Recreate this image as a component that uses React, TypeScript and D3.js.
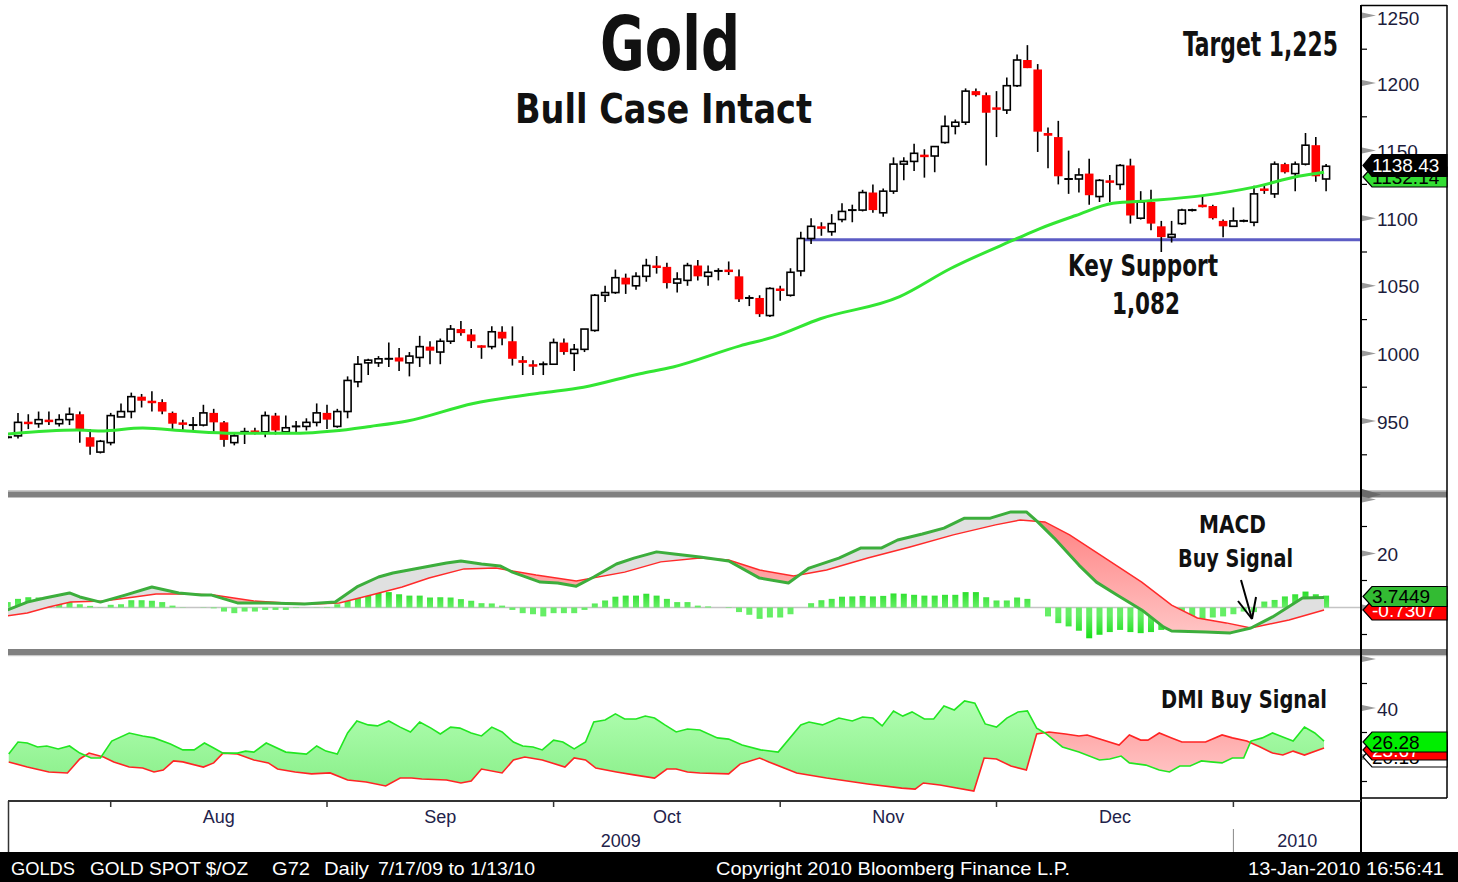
import React from "react";
import * as d3 from "d3";

// ---------- DATA ----------
// Daily candles, index 0 = first (partially cut) bar on the left edge
const OPEN = [938, 939, 949.5, 948, 951, 948, 951, 955, 938, 927,
  934, 953, 957, 968, 965, 964, 956, 949, 947, 947,
  956, 949, 934, 942, 943, 942, 954, 942, 946, 946,
  949, 956, 946, 957, 979, 993, 993, 996, 997, 993,
  997, 1005, 1001, 1009, 1018, 1014, 1006, 1005, 1016, 1009,
  995, 992, 992, 992, 1008, 1000, 1003, 1017, 1043, 1045,
  1056, 1050, 1057, 1065, 1064, 1052, 1054, 1065, 1057, 1061,
  1062, 1057, 1041, 1041, 1028, 1048, 1043, 1061, 1085, 1094,
  1090, 1099, 1106, 1106, 1119, 1104, 1120, 1140, 1142, 1147,
  1146, 1156, 1168, 1171, 1194, 1191, 1182, 1180, 1198, 1217,
  1210, 1163, 1160, 1129, 1129, 1133, 1116, 1128, 1125, 1139,
  1100, 1112, 1094, 1086, 1096, 1106, 1110, 1109, 1098, 1094,
  1098, 1097, 1122, 1118, 1140, 1133, 1140, 1154, 1129];
const HIGH = [939, 956, 955, 957, 957, 955, 960, 957, 944, 936,
  956, 963, 971, 970, 972, 966, 957, 951, 953, 962,
  959, 950, 941, 945, 945, 957, 956, 954, 950, 952,
  963, 962, 959, 983, 998, 996, 998, 1008, 1004, 1001,
  1013, 1009, 1011, 1021, 1024, 1018, 1006, 1020, 1020, 1020,
  998, 995, 994, 1011, 1011, 1007, 1018, 1044, 1050, 1062,
  1059, 1060, 1070, 1072, 1067, 1060, 1067, 1069, 1065, 1063,
  1068, 1062, 1043, 1043, 1049, 1050, 1063, 1090, 1100, 1097,
  1103, 1111, 1110, 1121, 1125, 1122, 1145, 1145, 1155, 1151,
  1153, 1176, 1173, 1196, 1196, 1193, 1194, 1204, 1221, 1228,
  1214, 1167, 1172, 1150, 1137, 1144, 1129, 1132, 1140, 1144,
  1120, 1121, 1098, 1098, 1107, 1107, 1117, 1110, 1099, 1108,
  1099, 1124, 1124, 1142, 1141, 1142, 1163, 1160, 1140];
const LOW = [937, 937, 944, 945, 947, 946, 947, 934, 925, 926,
  932, 953, 952, 960, 957, 955, 944, 942, 943, 946,
  942, 931, 932, 933, 940, 938, 940, 942, 941, 943,
  946, 944, 945, 952, 975, 984, 990, 990, 987, 983,
  990, 992, 992, 1007, 1013, 1004, 996, 1003, 1006, 991,
  984, 984, 984, 992, 999, 987, 1001, 1016, 1038, 1044,
  1044, 1047, 1053, 1059, 1048, 1045, 1050, 1054, 1050, 1054,
  1058, 1038, 1035, 1027, 1027, 1039, 1042, 1057, 1081, 1087,
  1087, 1097, 1097, 1105, 1104, 1101, 1118, 1128, 1135, 1130,
  1134, 1155, 1162, 1169, 1190, 1139, 1160, 1177, 1197, 1211,
  1149, 1137, 1125, 1118, 1119, 1110, 1112, 1112, 1121, 1096,
  1099, 1091, 1075, 1082, 1095, 1105, 1108, 1099, 1086, 1094,
  1097, 1094, 1118, 1115, 1133, 1120, 1139, 1127, 1120];
const CLOSE = [938, 949, 949, 951, 949.5, 951, 955, 944, 931, 935,
  954, 957, 968, 965, 964, 957, 948, 948, 947, 956,
  949, 936, 939, 942, 942, 954, 943, 945, 946, 949,
  956, 951, 957, 980, 992, 995, 996, 996, 994, 998,
  1005, 1002, 1009, 1018, 1015, 1009, 1005, 1016, 1011, 996,
  993, 991, 992, 1008, 1001, 1003, 1018, 1043, 1045, 1056,
  1051, 1057, 1065, 1064, 1052, 1055, 1065, 1057, 1060, 1061,
  1061, 1040, 1041, 1029, 1048, 1047, 1060, 1085, 1094, 1093,
  1096, 1105, 1106, 1119, 1106, 1120, 1140, 1142, 1148, 1146,
  1153, 1168, 1171, 1194, 1191, 1178, 1181, 1198, 1217, 1211,
  1164, 1161, 1131, 1129, 1132, 1117, 1128, 1127, 1139, 1102,
  1112, 1096, 1086, 1088, 1106, 1106, 1109, 1100, 1094, 1098,
  1098, 1118, 1121, 1140, 1134, 1140, 1154, 1131, 1138.43];

// Moving average (green) : [bar index, price]
const MA_PTS: [number, number][] = [[0, 940.4], [6.7, 943.3], [9, 942.6], [13.1, 944.8], [17.4, 942.6],
  [21.9, 941], [25.2, 941], [28.4, 941], [31.6, 942.6], [35.2, 946], [38.8, 950], [45.2, 963],
  [51.7, 970.7], [55.9, 975], [61.4, 985], [64.6, 990], [71.1, 1005.6], [74.3, 1012], [78.9, 1025.6],
  [86.6, 1042], [91.5, 1062.6], [98, 1085], [100.1, 1092], [103.7, 1102], [107.3, 1111], [110.9, 1113],
  [116, 1116.7], [121, 1123], [125.3, 1131], [127.8, 1134]];
const SUPPORT = 1084;
const SUPPORT_FROM = 77;
const LAST_PRICE = "1138.43";
const LAST_MA = "1132.14";

// MACD line, signal line : [bar index, value]
const MACD: [number, number][] = [[0, -0.9], [1.9, 2.0], [3.6, 3.5], [6, 5.4], [7, 3.9], [9, 2.0], [11.4, 4.6],
  [14, 7.6], [16.6, 5.4], [18.8, 4.6], [19.8, 4.6], [22.3, 1.7], [25.3, 1.7], [28.8, 1.3], [31.8, 2.0],
  [33.9, 7.6], [36, 11.3], [37.4, 12.8], [40, 14.6], [42.6, 16.5], [44, 17.2], [46, 16.1], [47.8, 15.4],
  [49, 13.1], [51.7, 9.4], [53.4, 9.1], [55.2, 7.9], [56.9, 11.3], [59.1, 16.1], [60.8, 18.3], [63, 20.6],
  [64.7, 19.8], [67.2, 18.7], [70, 17.2], [73, 10.9], [75.8, 9.1], [77.8, 14.6], [80.7, 18.3], [82.8, 22],
  [84.8, 22], [86.4, 25], [88.8, 27.2], [90.9, 29.4], [92.9, 33.1], [95.4, 33.1], [97.4, 35.4], [98.9, 35.4],
  [100, 31.7], [101.6, 25.7], [104, 15.7], [105.7, 9.4], [107.7, 4.6], [110.1, -0.9], [112.2, -7.2],
  [113, -8.7], [116.3, -9.1], [118.7, -9.4], [120.7, -7.6], [122.8, -3.5], [125.7, 3.5], [127.8, 3.7]];
const SIGNAL: [number, number][] = [[0, -3.1], [1.9, -2.0], [4, 0.2], [6.1, 2.0], [9.3, 2.4], [12.3, 3.9],
  [14.4, 5.0], [17.5, 5.0], [20, 4.6], [23.9, 2.4], [27, 1.7], [29.6, 1.3], [32.2, 1.7], [35.3, 4.6],
  [38.3, 7.6], [40.9, 10.9], [44.3, 14.3], [47.4, 14.6], [51.3, 12], [55.2, 9.8], [59.9, 13.1], [63.4, 16.9],
  [67.2, 18.3], [70, 17.6], [73, 13.9], [76.3, 11.7], [79.5, 13.9], [83.5, 18.3], [87.6, 22.4], [91.8, 26.9],
  [95.9, 30.6], [98.3, 32.4], [100.7, 31.7], [103.1, 26.9], [106.4, 18.7], [110.1, 9.4], [113, 0.9],
  [115.5, -3.9], [118.3, -5.7], [120.7, -7.6], [124.4, -4.6], [127.8, -0.9]];
// MACD histogram, one bar per day
const HIST = [2.0, 3.2, 3.8, 3.7, 3.5, 3.7, 4.1, 1.2, 0.6, 0.1,
  1.0, 1.2, 2.7, 2.7, 2.5, 2.0, 0.7, 0.1, 0, -0.1,
  -0.3, -1.5, -2.1, -1.5, -1.5, -0.9, -0.9, -0.9, -0.2, 0,
  0.1, 0.2, 1.2, 2.5, 4.4, 4.9, 5.7, 5.7, 4.9, 4.4,
  4.4, 3.7, 3.8, 3.7, 3.1, 2.5, 1.6, 1.5, 0.7, -0.9,
  -2.1, -2.5, -3.3, -2.1, -2.1, -2.1, -0.9, 1.5, 2.6, 4.0,
  4.4, 4.4, 5.1, 4.4, 3.2, 2.0, 2.0, 0.7, 0.4, 0,
  -0.2, -1.7, -2.7, -4.2, -3.7, -3.7, -2.5, 0, 1.6, 2.7,
  3.2, 4.0, 4.1, 4.3, 4.1, 4.3, 5.2, 5.1, 4.7, 4.4,
  4.4, 4.7, 4.7, 5.7, 5.7, 3.8, 2.6, 2.6, 3.7, 3.2,
  0, -3.3, -5.8, -7.0, -8.6, -11.4, -10.1, -9.1, -8.3, -9.1,
  -9.5, -9.1, -8.3, -7.0, -6.7, -5.4, -4.2, -3.7, -3.3, -2.5,
  -1.5, -1.7, 2.2, 2.8, 4.1, 4.9, 5.9, 4.9, 4.4];
const MACD_LAST = "3.7449";
const SIGNAL_LAST = "-0.7307";

// DMI : DI+ (green) and DI- (red) : [bar index, value]
const DI_PLUS: [number, number][] = [[0.1, 21.2], [1, 26.1], [1.9, 25.7], [2.9, 24.1], [3.8, 24.5], [4.9, 23.3],
  [6, 24.5], [7, 21.6], [8.1, 19.6], [9, 19.6], [10.1, 26.5], [11.8, 29.8], [13.1, 28.6], [14.2, 27.8],
  [15.8, 25.3], [17, 22.9], [18.1, 22.9], [19.1, 25.7], [20, 23.7], [20.9, 21.6], [22.3, 21.6], [23.1, 22.4],
  [23.9, 22], [25.1, 25.7], [27, 22], [29, 21.2], [30, 24.5], [30.9, 22.4], [32, 21.2], [33, 29.8],
  [33.9, 34.7], [35, 33.1], [35.9, 32.7], [37, 34.7], [38.1, 32.2], [39.1, 30.2], [40, 34.3], [41.1, 31.8],
  [42, 29.4], [43, 32.2], [43.9, 31.8], [45, 29.8], [46, 28.6], [47, 32.2], [48, 30.2], [49.1, 26.1],
  [50, 24.5], [51, 24.1], [51.9, 22.9], [53, 26.9], [53.9, 26.1], [55, 23.3], [56.1, 26.1], [56.9, 34.3],
  [58, 35.1], [59, 37.6], [59.9, 35.5], [61, 35.5], [61.9, 36.7], [62.8, 35.9], [63.8, 33.1], [64.9, 30.2],
  [66, 31.4], [67.2, 31], [68.9, 27.8], [70, 27.3], [71.3, 24.9], [73.1, 22.9], [74.8, 22], [77, 33.1],
  [77.8, 34.3], [79.1, 33.1], [80.7, 35.9], [82, 34.7], [83, 36.3], [84, 35.9], [84.9, 32.7], [86, 38.8],
  [86.9, 36.7], [87.8, 38.4], [89, 35.5], [89.9, 35.5], [90.9, 40.8], [91.9, 39.2], [92.9, 42.9], [93.9, 42],
  [94.9, 33.5], [96, 32.2], [97, 35.9], [98.1, 38.4], [99, 38.8], [99.9, 31.8], [100.7, 29.8], [102.4, 24.1],
  [104, 22], [106, 18.8], [107, 19.2], [108.1, 20.4], [108.9, 17.6], [110.5, 16.7], [111.8, 14.7],
  [112.8, 13.9], [113.8, 16.3], [114.8, 16.3], [115.9, 18.4], [116.8, 18], [117.9, 17.6], [118.9, 19.6],
  [120, 19.6], [120.7, 26.5], [121.8, 27.8], [122.8, 29.8], [123.8, 28.2], [124.8, 26.5], [125.9, 32.2],
  [126.9, 29.8], [127.8, 26.5]];
const DI_MINUS: [number, number][] = [[0.1, 18], [1.9, 15.9], [4, 13.9], [5.8, 13.5], [7, 19.2], [7.9, 21.6],
  [9.3, 20], [10.3, 18], [11.8, 15.9], [13.1, 15.5], [14.2, 13.9], [15.1, 14.7], [16.1, 18.4], [17, 18],
  [19, 15.9], [20, 17.6], [20.9, 21.6], [22.3, 21.2], [23.9, 18.8], [25.3, 17.6], [26.2, 15.1], [27.9, 13.9],
  [29.5, 13.1], [31.3, 13.5], [33, 10.6], [34.8, 9.8], [36.7, 8.2], [38.1, 11.4], [39.2, 11.4], [40.2, 11],
  [42.6, 10.6], [44, 9.4], [45, 10.2], [46, 15.1], [48, 13.5], [49.1, 18.8], [50.2, 20], [51.9, 18.8],
  [54.1, 15.9], [55, 19.6], [56.1, 18.8], [57.1, 15.5], [59.1, 13.9], [60.8, 12.7], [62.8, 11.4], [64, 15.1],
  [64.9, 15.1], [66, 13.9], [67.2, 13.5], [70, 13.1], [71.1, 17.1], [73, 19.6], [73.9, 18], [76.6, 13.5],
  [79.5, 11.4], [83.5, 9], [86.8, 7.3], [88.1, 6.9], [88.9, 9.4], [90.5, 8.6], [93.8, 6.1], [94.8, 19.6],
  [96, 19.2], [97.4, 16.3], [98.9, 14.7], [99.9, 29.4], [101.1, 30.2], [102.7, 29.4], [104, 28.6],
  [104.8, 29], [107.9, 24.9], [108.9, 29], [110, 26.9], [110.7, 26.9], [111.8, 29.8], [113, 27.8],
  [114, 26.1], [116.3, 26.1], [117.9, 29], [118.9, 27.8], [120.3, 26.5], [121.6, 24.1], [122.8, 21.6],
  [123.8, 20.8], [124.8, 22.4], [125.9, 20.8], [127.8, 23.7]];
const DIP_LAST = "26.28";
const DIM_LAST = "23.67";
const ADX_LAST = "20.18";

// Axis ticks and labels
const PRICE_MAJOR = [950, 1000, 1050, 1100, 1150, 1200, 1250];
const PRICE_MINOR = [925, 975, 1025, 1075, 1125, 1175, 1225];
const MACD_MAJOR = [40, 20, 0];
const MACD_MINOR = [30, 10, -10];
const MACD_LABELED = [20];
const DMI_MAJOR = [60, 40, 20];
const DMI_MINOR = [50, 30, 10];
const DMI_LABELED = [40];
const MONTH_TICKS = [10, 31, 53, 75, 96, 119];
const MONTH_LABELS = ["Aug", "Sep", "Oct", "Nov", "Dec"];
const YEAR_LABELS = ["2009", "2010"];

// ---------- LAYOUT ----------
const W = 1458, H = 882;
const L = 8, R = 1361, AX_R = 1447;
const P_TOP = 5, P_BOT = 490;
const M_TOP = 498, M_BOT = 649;
const D_TOP = 656, D_BOT = 800;

const xS = d3.scaleLinear().domain([0, 128]).range([7.7, 1326.1]);
const yP = d3.scaleLinear().domain([950, 1200]).range([421, 83]);
const yM = d3.scaleLinear().domain([0, 20]).range([607.5, 553.5]);
const yD = d3.scaleLinear().domain([40, 20]).range([708, 757]);

const COND = "'Liberation Sans Narrow','DejaVu Sans Condensed','Arial Narrow',sans-serif";
const SANS = "'Liberation Sans',Arial,Helvetica,sans-serif";

function pathOf(pts: [number, number][]) {
  return "M" + pts.map((p) => p[0].toFixed(2) + "," + p[1].toFixed(2)).join("L");
}

function BetweenFill(props: {
  id: string; a: [number, number][]; b: [number, number][]; ys: (v: number) => number;
  top: number; bottom: number; up: string; down: string;
}) {
  const { id, a, b, ys, top, bottom, up, down } = props;
  const ap = a.map((d) => [xS(d[0]), ys(d[1])] as [number, number]);
  const bp = b.map((d) => [xS(d[0]), ys(d[1])] as [number, number]);
  const poly = pathOf([...ap, ...bp.slice().reverse()]) + "Z";
  const f = bp[0], l = bp[bp.length - 1];
  const above = pathOf([[f[0] - 60, f[1]], ...bp, [l[0] + 60, l[1]], [l[0] + 60, top], [f[0] - 60, top]]) + "Z";
  const below = pathOf([[f[0] - 60, f[1]], ...bp, [l[0] + 60, l[1]], [l[0] + 60, bottom], [f[0] - 60, bottom]]) + "Z";
  return (
    <g>
      <defs>
        <clipPath id={id + "up"}><path d={above} /></clipPath>
        <clipPath id={id + "dn"}><path d={below} /></clipPath>
      </defs>
      <path d={poly} fill={up} clipPath={`url(#${id}up)`} />
      <path d={poly} fill={down} clipPath={`url(#${id}dn)`} />
    </g>
  );
}

function ValueBox(props: { yc: number; h: number; fill: string; text: string; color: string; stroke?: string }) {
  const { yc, h, fill, text, color, stroke } = props;
  const x0 = 1363, top = yc - h / 2, bot = yc + h / 2;
  const pts = `${x0},${yc} ${x0 + 9},${top} ${AX_R},${top} ${AX_R},${bot} ${x0 + 9},${bot}`;
  return (
    <g>
      <polygon points={pts} fill={fill} stroke={stroke || "#000"} strokeWidth={1.2} />
      <text x={1372} y={yc + 6.5} fontFamily={SANS} fontSize={19} fill={color}>{text}</text>
    </g>
  );
}

function AxisTicks(props: { major: number[]; minor: number[]; labeled: number[]; ys: (v: number) => number; minY: number; maxY: number }) {
  const { major, minor, labeled, ys, minY, maxY } = props;
  return (
    <g>
      {minor.map((v) => {
        const y = ys(v);
        if (y < minY || y > maxY) return null;
        return <line key={"mi" + v} x1={1362} x2={1367} y1={y} y2={y} stroke="#000" strokeWidth={1.2} />;
      })}
      {major.map((v) => {
        const y = ys(v);
        if (y < minY - 2 || y > maxY) return null;
        return (
          <g key={"ma" + v}>
            <polygon points={`1362,${y - 3} 1376,${y} 1362,${y + 3}`} fill="#9a9a9a" />
            {labeled.includes(v) && (
              <text x={1377} y={Math.max(y + 7.5, minY + 20)} fontFamily={SANS} fontSize={19} fill="#1c1c3c">{v}</text>
            )}
          </g>
        );
      })}
    </g>
  );
}

export default function App() {
  const maLine = d3.line<[number, number]>().x((d) => xS(d[0])).y((d) => yP(d[1])).curve(d3.curveMonotoneX);
  const mLine = d3.line<[number, number]>().x((d) => xS(d[0])).y((d) => yM(d[1]));
  const dLine = d3.line<[number, number]>().x((d) => xS(d[0])).y((d) => yD(d[1]));
  const bw = 7;

  const candles = OPEN.map((o, i) => {
    const c = CLOSE[i], h = HIGH[i], l = LOW[i];
    const x = xS(i);
    const yo = yP(o), yc = yP(c);
    let body;
    if (c > o) {
      body = <rect x={x - bw / 2} y={yc} width={bw} height={Math.max(yo - yc, 1.5)} fill="#fff" stroke="#000" strokeWidth={1.6} />;
    } else if (c < o) {
      const hh = Math.max(yc - yo, 2.5);
      body = <rect x={x - bw / 2 - 0.8} y={yo} width={bw + 1.6} height={hh} fill="#ff0000" />;
    } else {
      body = <line x1={x - bw / 2 - 0.8} x2={x + bw / 2 + 0.8} y1={yo} y2={yo} stroke="#000" strokeWidth={2} />;
    }
    return (
      <g key={i}>
        <line x1={x} x2={x} y1={yP(h)} y2={yP(l)} stroke="#000" strokeWidth={1.6} />
        {body}
      </g>
    );
  });

  const hist = HIST.map((v, i) => {
    const x = xS(i);
    const y0 = yM(0), y1 = yM(v);
    return <rect key={i} x={x - 3} y={Math.min(y0, y1)} width={6} height={Math.abs(y1 - y0)} fill="url(#histG)" />;
  });

  return (
    <svg width={W} height={H} style={{ position: "fixed", left: 0, top: 0, background: "#fff" }}>
      <defs>
        <clipPath id="clipP"><rect x={L} y={P_TOP} width={R - L} height={P_BOT - P_TOP} /></clipPath>
        <clipPath id="clipM"><rect x={L} y={M_TOP} width={R - L} height={M_BOT - M_TOP} /></clipPath>
        <clipPath id="clipD"><rect x={L} y={D_TOP} width={R - L} height={D_BOT - D_TOP} /></clipPath>
        <linearGradient id="pinkM" gradientUnits="userSpaceOnUse" x1={0} y1={515} x2={0} y2={640}>
          <stop offset="0" stopColor="#ff8080" />
          <stop offset="1" stopColor="#ffc8c8" />
        </linearGradient>
        <linearGradient id="greenD" gradientUnits="userSpaceOnUse" x1={0} y1={695} x2={0} y2={795}>
          <stop offset="0" stopColor="#b4ffb4" />
          <stop offset="1" stopColor="#86ee86" />
        </linearGradient>
        <linearGradient id="pinkD" gradientUnits="userSpaceOnUse" x1={0} y1={730} x2={0} y2={775}>
          <stop offset="0" stopColor="#ffa8a8" />
          <stop offset="1" stopColor="#ffc4c4" />
        </linearGradient>
        <linearGradient id="histG" gradientUnits="userSpaceOnUse" x1={0} y1={590} x2={0} y2={640}>
          <stop offset="0" stopColor="#22dd22" />
          <stop offset="0.34" stopColor="#66ee66" />
          <stop offset="0.5" stopColor="#66ee66" />
          <stop offset="1" stopColor="#11dd11" />
        </linearGradient>
      </defs>
      <rect x={0} y={0} width={W} height={H} fill="#fff" />

      {/* ---------- PRICE PANEL ---------- */}
      <g clipPath="url(#clipP)">
        <line x1={xS(SUPPORT_FROM) - 3} x2={R} y1={yP(SUPPORT)} y2={yP(SUPPORT)} stroke="#5c5cc4" strokeWidth={3} />
        {candles}
        <path d={maLine(MA_PTS) || ""} fill="none" stroke="#33e633" strokeWidth={3} />
      </g>
      <text x={600} y={70} fontFamily={COND} fontWeight="bold" fontSize={75} textLength={140} lengthAdjust="spacingAndGlyphs" fill="#111">Gold</text>
      <text x={515} y={123} fontFamily={COND} fontWeight="bold" fontSize={41} textLength={297} lengthAdjust="spacingAndGlyphs" fill="#111">Bull Case Intact</text>
      <text x={1183} y={56} fontFamily={COND} fontWeight="bold" fontSize={33} textLength={155} lengthAdjust="spacingAndGlyphs" fill="#111">Target 1,225</text>
      <text x={1068} y={276} fontFamily={COND} fontWeight="bold" fontSize={30} textLength={150} lengthAdjust="spacingAndGlyphs" fill="#111">Key Support</text>
      <text x={1112} y={314} fontFamily={COND} fontWeight="bold" fontSize={30} textLength={68} lengthAdjust="spacingAndGlyphs" fill="#111">1,082</text>

      {/* ---------- MACD PANEL ---------- */}
      <g clipPath="url(#clipM)">
        <line x1={L} x2={R} y1={yM(0)} y2={yM(0)} stroke="#c4c4c4" strokeWidth={1.5} />
        {hist}
        <BetweenFill id="mf" a={MACD} b={SIGNAL} ys={yM} top={M_TOP - 5} bottom={M_BOT + 5} up="#e0e0e0" down="url(#pinkM)" />
        <path d={mLine(SIGNAL) || ""} fill="none" stroke="#ff2a2a" strokeWidth={1.5} />
        <path d={mLine(MACD) || ""} fill="none" stroke="#3cae3c" strokeWidth={3} strokeLinejoin="round" />
      </g>
      <text x={1199} y={533} fontFamily={COND} fontWeight="bold" fontSize={25} textLength={67} lengthAdjust="spacingAndGlyphs" fill="#111">MACD</text>
      <text x={1178} y={567} fontFamily={COND} fontWeight="bold" fontSize={25} textLength={115} lengthAdjust="spacingAndGlyphs" fill="#111">Buy Signal</text>
      <g stroke="#000" strokeWidth={2} fill="none">
        <line x1={1241} y1={580} x2={1252} y2={619} />
        <line x1={1252} y1={619} x2={1238} y2={601} />
        <line x1={1252} y1={619} x2={1256} y2={597} />
      </g>

      {/* ---------- DMI PANEL ---------- */}
      <g clipPath="url(#clipD)">
        <BetweenFill id="df" a={DI_PLUS} b={DI_MINUS} ys={yD} top={D_TOP - 5} bottom={D_BOT + 5} up="url(#greenD)" down="url(#pinkD)" />
        <path d={dLine(DI_MINUS) || ""} fill="none" stroke="#ff2424" strokeWidth={1.6} />
        <path d={dLine(DI_PLUS) || ""} fill="none" stroke="#22e622" strokeWidth={1.6} />
      </g>
      <text x={1161} y={708} fontFamily={COND} fontWeight="bold" fontSize={25} textLength={166} lengthAdjust="spacingAndGlyphs" fill="#111">DMI Buy Signal</text>

      {/* ---------- SEPARATORS ---------- */}
      <rect x={L} y={490} width={AX_R - L} height={1.5} fill="#c8c8c8" />
      <rect x={L} y={491.5} width={AX_R - L} height={6} fill="#808080" />
      <rect x={L} y={649} width={AX_R - L} height={6} fill="#808080" />
      <rect x={L} y={655} width={AX_R - L} height={1.2} fill="#c8c8c8" />
      <polygon points={`1362,489 1381,494.5 1362,500`} fill="#6a6a6a" />

      {/* ---------- RIGHT AXIS COLUMN ---------- */}
      <line x1={R} x2={AX_R} y1={5.5} y2={5.5} stroke="#000" strokeWidth={1.5} />
      <line x1={AX_R} x2={AX_R} y1={5} y2={798} stroke="#000" strokeWidth={1.5} />
      <line x1={R} x2={AX_R} y1={798} y2={798} stroke="#000" strokeWidth={1.5} />
      <AxisTicks major={PRICE_MAJOR} minor={PRICE_MINOR} labeled={PRICE_MAJOR} ys={yP} minY={P_TOP} maxY={P_BOT - 4} />
      <AxisTicks major={MACD_MAJOR} minor={MACD_MINOR} labeled={MACD_LABELED} ys={yM} minY={M_TOP} maxY={M_BOT} />
      <AxisTicks major={DMI_MAJOR} minor={DMI_MINOR} labeled={DMI_LABELED} ys={yD} minY={D_TOP} maxY={D_BOT} />

      <ValueBox yc={177} h={20} fill="#33dd33" text={LAST_MA} color="#000" />
      <ValueBox yc={165.5} h={22} fill="#000" text={LAST_PRICE} color="#fff" />

      <ValueBox yc={610} h={20} fill="#ff0000" text={SIGNAL_LAST} color="#fff" />
      <ValueBox yc={596.5} h={20} fill="#33bb33" text={MACD_LAST} color="#000" />

      <ValueBox yc={757} h={20} fill="#fff" text={ADX_LAST} color="#000" />
      <ValueBox yc={750} h={20} fill="#ff0000" text={DIM_LAST} color="#fff" />
      <ValueBox yc={742} h={20} fill="#00ee00" text={DIP_LAST} color="#000" />

      <line x1={R} x2={R} y1={5} y2={852} stroke="#000" strokeWidth={2} />

      {/* ---------- DATE AXIS ---------- */}
      <line x1={L} x2={R} y1={801} y2={801} stroke="#333" strokeWidth={2} />
      <line x1={L + 0.5} x2={L + 0.5} y1={801} y2={852} stroke="#333" strokeWidth={1.5} />
      {MONTH_TICKS.map((t) => (
        <line key={"mt" + t} x1={xS(t)} x2={xS(t)} y1={801} y2={807} stroke="#333" strokeWidth={1.5} />
      ))}
      {MONTH_LABELS.map((m, k) => (
        <text key={m} x={(xS(MONTH_TICKS[k]) + xS(MONTH_TICKS[k + 1])) / 2} y={823} textAnchor="middle"
          fontFamily={SANS} fontSize={18} fill="#22224a">{m}</text>
      ))}
      <line x1={xS(MONTH_TICKS[5])} x2={xS(MONTH_TICKS[5])} y1={829} y2={852} stroke="#888" strokeWidth={1} />
      <text x={(L + xS(MONTH_TICKS[5])) / 2} y={847} textAnchor="middle" fontFamily={SANS} fontSize={18} fill="#22224a">{YEAR_LABELS[0]}</text>
      <text x={(xS(MONTH_TICKS[5]) + R) / 2} y={847} textAnchor="middle" fontFamily={SANS} fontSize={18} fill="#22224a">{YEAR_LABELS[1]}</text>

      {/* ---------- FOOTER ---------- */}
      <rect x={0} y={852} width={W} height={30} fill="#000" />
      <g fontFamily={SANS} fontSize={19} fill="#fff">
        <text x={11} y={875} textLength={64} lengthAdjust="spacingAndGlyphs">GOLDS</text>
        <text x={90} y={875} textLength={158} lengthAdjust="spacingAndGlyphs">GOLD SPOT $/OZ</text>
        <text x={272} y={875} textLength={38} lengthAdjust="spacingAndGlyphs">G72</text>
        <text x={324} y={875} textLength={45} lengthAdjust="spacingAndGlyphs">Daily</text>
        <text x={378} y={875} textLength={157} lengthAdjust="spacingAndGlyphs">7/17/09 to 1/13/10</text>
        <text x={716} y={875} textLength={354} lengthAdjust="spacingAndGlyphs">Copyright 2010 Bloomberg Finance L.P.</text>
        <text x={1248} y={875} textLength={196} lengthAdjust="spacingAndGlyphs">13-Jan-2010 16:56:41</text>
      </g>
    </svg>
  );
}
